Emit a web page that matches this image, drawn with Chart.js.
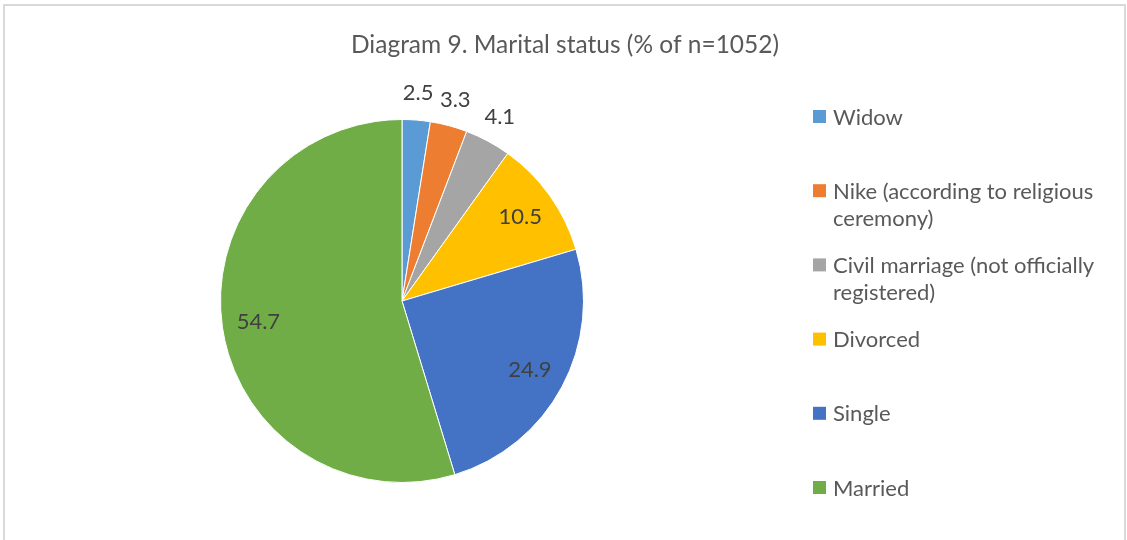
<!DOCTYPE html>
<html>
<head>
<meta charset="utf-8">
<script src="https://cdn.jsdelivr.net/npm/chart.js@4.4.0/dist/chart.umd.min.js"></script>
<style>
  html, body { margin: 0; padding: 0; background: #ffffff; }
  #wrap { position: relative; width: 1127px; height: 540px; overflow: hidden; }
  #frame { position: absolute; left: 3px; top: 4px; width: 1119px; height: 600px; border: 2px solid #d9d9d9; box-sizing: content-box; }
  canvas { position: absolute; left: 0; top: 0; }
</style>
</head>
<body>
<div id="wrap">
  <div id="frame"></div>
  <canvas id="c" width="1127" height="540"></canvas>
</div>
<script>
const TITLE = "Diagram 9. Marital status (% of n=1052)";
const categories = ["Widow", "Nike (according to religious ceremony)", "Civil marriage (not officially registered)", "Divorced", "Single", "Married"];
const values = [2.5, 3.3, 4.1, 10.5, 24.9, 54.7];
const colors = ["#5B9BD5", "#ED7D31", "#A5A5A5", "#FFC000", "#4472C4", "#70AD47"];
const outsideLabel = [true, true, true, false, false, false];

const FONT = "Lato, 'Open Sans', sans-serif";

function wrapText(ctx, text, maxW) {
  const words = text.split(" ");
  const lines = [];
  let cur = "";
  for (const w of words) {
    const t = cur ? cur + " " + w : w;
    if (ctx.measureText(t).width > maxW && cur) { lines.push(cur); cur = w; }
    else cur = t;
  }
  if (cur) lines.push(cur);
  return lines;
}

const decor = {
  id: "decor",
  afterDraw(chart) {
    const ctx = chart.ctx;
    ctx.save();
    // title
    ctx.fillStyle = "#595959";
    ctx.font = "24.5px " + FONT;
    ctx.textAlign = "center";
    ctx.textBaseline = "middle";
    ctx.fillText(TITLE, 565, 45);

    // data labels
    const meta = chart.getDatasetMeta(0);
    ctx.font = "22px " + FONT;
    ctx.fillStyle = "#404040";
    meta.data.forEach((arc, i) => {
      const p = arc.getProps(["x", "y", "startAngle", "endAngle", "outerRadius"], true);
      const mid = (p.startAngle + p.endAngle) / 2;
      const d = outsideLabel[i] ? p.outerRadius + 25 : p.outerRadius * 0.8;
      const lx = p.x + Math.cos(mid) * d;
      const ly = p.y + Math.sin(mid) * d;
      ctx.fillText(String(values[i]), lx, ly - (outsideLabel[i] ? 2 : 0));
    });

    // legend
    ctx.font = "22px " + FONT;
    ctx.textAlign = "left";
    const x0 = 813, y0 = 116.5, step = 74.2, box = 13, lh = 27;
    categories.forEach((c, i) => {
      const y = y0 + i * step;
      ctx.fillStyle = colors[i];
      ctx.fillRect(x0, y - box / 2, box, box);
      ctx.fillStyle = "#595959";
      const lines = wrapText(ctx, c, 290);
      lines.forEach((ln, k) => ctx.fillText(ln, x0 + 20, y + 1 + k * lh));
    });
    ctx.restore();
  }
};

new Chart(document.getElementById("c"), {
  type: "pie",
  data: {
    labels: categories,
    datasets: [{
      data: values,
      backgroundColor: colors,
      borderColor: "#ffffff",
      borderWidth: 1,
      hoverOffset: 0
    }]
  },
  options: {
    responsive: false,
    animation: false,
    layout: { padding: { top: 119, bottom: 57, left: 220, right: 543 } },
    plugins: {
      legend: { display: false },
      title: { display: false },
      tooltip: { enabled: false }
    }
  },
  plugins: [decor]
});
</script>
</body>
</html>
